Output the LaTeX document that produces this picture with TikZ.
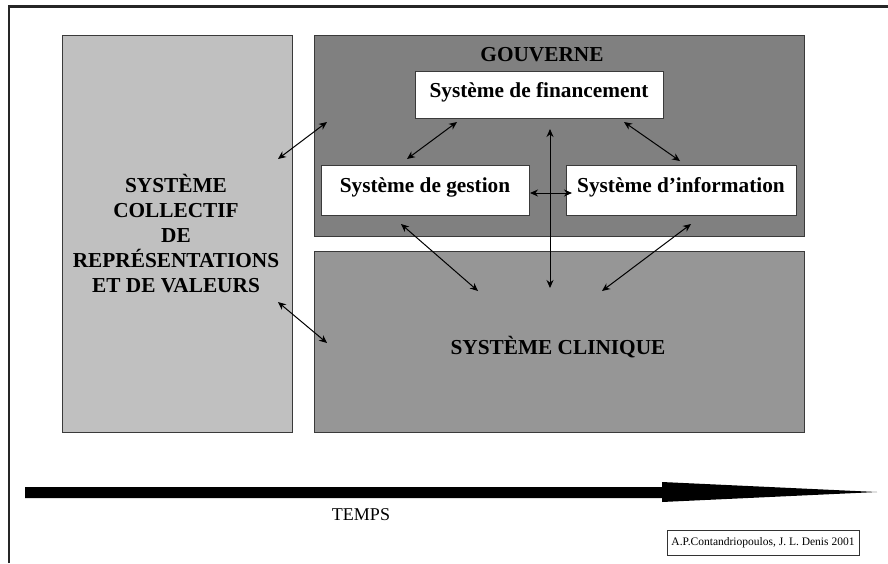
\documentclass[tikz,border=0pt]{standalone}
\usepackage{fontspec}
\setmainfont{Liberation Serif}
\usetikzlibrary{arrows.meta}
\definecolor{collgray}{HTML}{C0C0C0}
\definecolor{govgray}{HTML}{808080}
\definecolor{clingray}{HTML}{969696}
\definecolor{edgegray}{HTML}{3A3A3A}
\begin{document}
\begin{tikzpicture}[x=1pt,y=-1pt,
  panel/.style={draw=edgegray, line width=0.9pt, inner sep=0pt, outer sep=0pt},
  innerbox/.style={draw=edgegray, fill=white, line width=0.9pt, inner sep=0pt, outer sep=0pt},
  bigtxt/.style={font=\bfseries\fontsize{21.3}{25}\selectfont, inner sep=0pt, anchor=base},
  link/.style={line width=1pt, {Stealth[length=8pt,width=7pt]}-{Stealth[length=8pt,width=7pt]}},
]
\useasboundingbox (0,0) rectangle (888,563);
\fill[white] (0,0) rectangle (888,563);
% frame
\draw[line width=2.5pt, black!85] (9,563) -- (9,6.5) -- (888,6.5);

% panels
\node[panel, fill=collgray, minimum width=230pt, minimum height=397pt] (coll) at (177,233.5) {};
\node[panel, fill=govgray, minimum width=490pt, minimum height=201pt] (gov) at (559,135.5) {};
\node[panel, fill=clingray, minimum width=490pt, minimum height=181pt] (clin) at (559,341.5) {};

% inner boxes
\node[innerbox, minimum width=248pt, minimum height=47pt] (fin) at (539,94.5) {};
\node[innerbox, minimum width=208pt, minimum height=50pt] (gest) at (425,190) {};
\node[innerbox, minimum width=230pt, minimum height=50pt] (info) at (681,190) {};

% texts
\node[bigtxt] (govt) at (542,61.5) {GOUVERNE};
\node[bigtxt] (fint) at (539,97) {Système de financement};
\node[bigtxt] (gestt) at (425,192) {Système de gestion};
\node[bigtxt] (infot) at (681,192) {Système d’information};
\node[bigtxt] (clint) at (558,354) {SYSTÈME CLINIQUE};
\node[bigtxt] (l1) at (176,192) {SYSTÈME};
\node[bigtxt] (l2) at (176,217) {COLLECTIF};
\node[bigtxt] (l3) at (176,242) {DE};
\node[bigtxt] (l4) at (176,267) {REPRÉSENTATIONS};
\node[bigtxt] (l5) at (176,292) {ET DE VALEURS};

% arrow end points
\coordinate (a1s) at (278,159); \coordinate (a1e) at (327,122);
\coordinate (a2s) at (278,302); \coordinate (a2e) at (327,343);
\coordinate (fgs) at (457,122); \coordinate (fge) at (407,159);
\coordinate (fis) at (624,122); \coordinate (fie) at (680,161);
\coordinate (gis) at (530,193); \coordinate (gie) at (572,193);
\coordinate (vs) at (550,129); \coordinate (ve) at (550,288);
\coordinate (gcs) at (401,224); \coordinate (gce) at (478,291);
\coordinate (ics) at (691,224); \coordinate (ice) at (602,291);

\draw[link] (a1s) -- (a1e);
\draw[link] (a2s) -- (a2e);
\draw[link] (fgs) -- (fge);
\draw[link] (fis) -- (fie);
\draw[link] (gis) -- (gie);
\draw[link] (vs) -- (ve);
\draw[link] (gcs) -- (gce);
\draw[link] (ics) -- (ice);

% time arrow
\coordinate (tstart) at (25,492.5);
\coordinate (ttip) at (877,492);
\fill[black] (25,487) -- (662,487) -- (662,482) -- (ttip) -- (662,502) -- (662,498) -- (25,498) -- cycle;
\node[font=\fontsize{18}{20}\selectfont, inner sep=0pt, anchor=base] (temps) at (361,520) {TEMPS};

% credit
\node[draw=black!80, line width=0.8pt, minimum width=192pt, minimum height=25pt, inner sep=0pt,
      font=\fontsize{11.5}{13}\selectfont] (credit) at (763,542.5) {A.P.Contandriopoulos, J. L. Denis 2001};
\end{tikzpicture}
\end{document}
